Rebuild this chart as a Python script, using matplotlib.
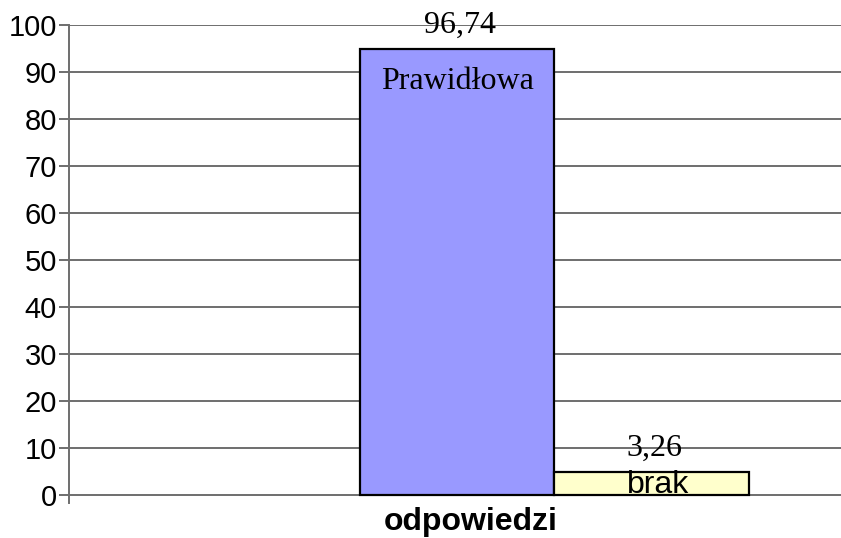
import matplotlib
matplotlib.use('Agg')
import matplotlib.pyplot as plt

# dane
categories = ['Prawidłowa', 'brak']
bar_heights = [95, 5]
value_labels = ['96,74', '3,26']
bar_colors = ['#9999FF', '#FFFFCC']
group_label = 'odpowiedzi'
y_ticks = list(range(0, 101, 10))

fig = plt.figure(figsize=(8.41, 5.38), dpi=100)
ax = fig.add_axes([0.0826, 0.065, 0.955, 0.888])

# pozycje słupków w jednostkach osi (0..1)
width = 0.242
x_pos = [0.3618 + width / 2, 0.3618 + width * 1.5]

ax.bar(x_pos, bar_heights, width=width, color=bar_colors,
       edgecolor='black', linewidth=1.6, zorder=3)

serif = ['Liberation Serif', 'DejaVu Serif']
sans = ['Liberation Sans', 'DejaVu Sans']

for x, h, lab in zip(x_pos, bar_heights, value_labels):
    ax.text(x + 0.004, h + 4.9, lab, ha='center', va='center',
            fontsize=23, family=serif, zorder=4)

ax.text(x_pos[0], bar_heights[0] - 7.0, categories[0], ha='center',
        va='center', fontsize=23, family=serif, zorder=4)
ax.text(x_pos[1] + 0.008, bar_heights[1] - 2.8, categories[1], ha='center',
        va='center', fontsize=23, family=sans, zorder=4)

ax.set_xlim(0, 1)
ax.set_ylim(-1.7, 100)
ax.set_yticks(y_ticks)
ax.set_yticklabels([str(t) for t in y_ticks], family=sans, fontsize=21)
ax.set_xticks([0.5])
ax.set_xticklabels([group_label], family=sans, fontsize=23, fontweight='bold')

ax.yaxis.grid(True, color='#6e6e6e', linewidth=1.4, zorder=1)
ax.tick_params(axis='y', length=7, width=1.4, color='#6e6e6e', pad=2)
ax.tick_params(axis='x', length=0, pad=3)

for side in ['top', 'right', 'bottom']:
    ax.spines[side].set_visible(False)
ax.spines['left'].set_color('#6e6e6e')
ax.spines['left'].set_linewidth(1.4)

fig.savefig('out.png', dpi=100)
